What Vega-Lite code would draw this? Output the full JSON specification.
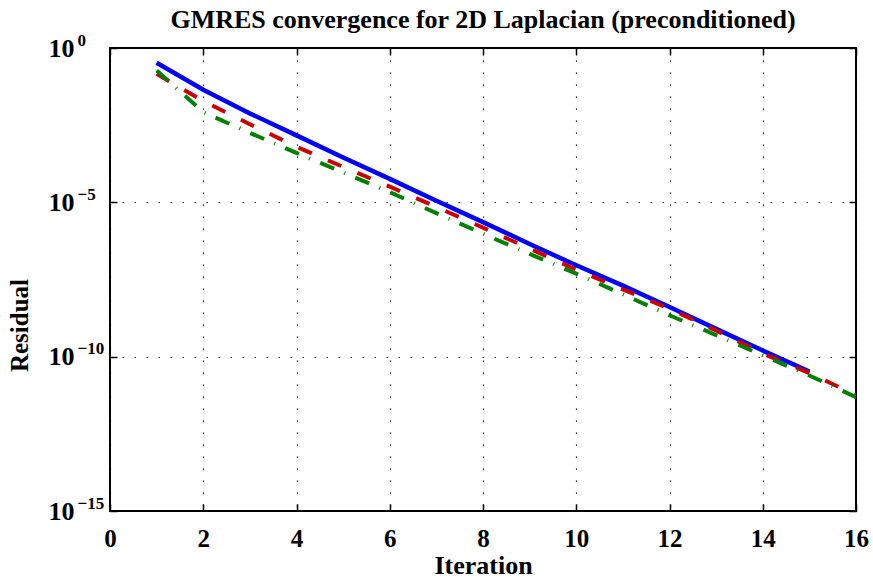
{
  "$schema": "https://vega.github.io/schema/vega-lite/v6.json",
  "width": 746,
  "height": 463,
  "autosize": {"type": "none"},
  "padding": {"left": 110, "top": 48, "right": 17, "bottom": 67},
  "background": "white",
  "title": {
    "text": "GMRES convergence for 2D Laplacian (preconditioned)",
    "font": "Liberation Serif",
    "fontSize": 26,
    "fontWeight": "bold",
    "color": "#000000",
    "anchor": "middle",
    "baseline": "alphabetic",
    "offset": 0,
    "dy": 23
  },
  "config": {
    "view": {"stroke": "#000000", "strokeWidth": 2},
    "axis": {
      "labelFont": "Liberation Serif",
      "titleFont": "Liberation Serif",
      "labelFontWeight": "bold",
      "titleFontWeight": "bold",
      "labelColor": "#000000",
      "titleColor": "#000000",
      "tickColor": "#000000",
      "domain": false,
      "labelOverlap": false,
      "labelBound": false,
      "labelFlush": false
    }
  },
  "data": {
    "values": [
      {"it": 1, "res": 0.331, "s": "P1"},
      {"it": 2, "res": 0.0447, "s": "P1"},
      {"it": 3, "res": 7.59e-3, "s": "P1"},
      {"it": 4, "res": 1.48e-3, "s": "P1"},
      {"it": 5, "res": 2.82e-4, "s": "P1"},
      {"it": 6, "res": 5.75e-5, "s": "P1"},
      {"it": 7, "res": 1.12e-5, "s": "P1"},
      {"it": 8, "res": 2.29e-6, "s": "P1"},
      {"it": 9, "res": 4.47e-7, "s": "P1"},
      {"it": 10, "res": 9.12e-8, "s": "P1"},
      {"it": 11, "res": 2.0e-8, "s": "P1"},
      {"it": 12, "res": 4.07e-9, "s": "P1"},
      {"it": 13, "res": 7.94e-10, "s": "P1"},
      {"it": 14, "res": 1.58e-10, "s": "P1"},
      {"it": 15, "res": 3.31e-11, "s": "P1"},
      {"it": 1, "res": 0.145, "s": "P2"},
      {"it": 2, "res": 0.0191, "s": "P2"},
      {"it": 3, "res": 3.39e-3, "s": "P2"},
      {"it": 4, "res": 6.31e-4, "s": "P2"},
      {"it": 5, "res": 1.41e-4, "s": "P2"},
      {"it": 6, "res": 3.24e-5, "s": "P2"},
      {"it": 7, "res": 7.08e-6, "s": "P2"},
      {"it": 8, "res": 1.51e-6, "s": "P2"},
      {"it": 9, "res": 3.16e-7, "s": "P2"},
      {"it": 10, "res": 6.61e-8, "s": "P2"},
      {"it": 11, "res": 1.51e-8, "s": "P2"},
      {"it": 12, "res": 3.55e-9, "s": "P2"},
      {"it": 13, "res": 7.08e-10, "s": "P2"},
      {"it": 14, "res": 1.26e-10, "s": "P2"},
      {"it": 15, "res": 2.95e-11, "s": "P2"},
      {"it": 16, "res": 5.62e-12, "s": "P2"},
      {"it": 1, "res": 0.186, "s": "P3"},
      {"it": 2, "res": 8.32e-3, "s": "P3"},
      {"it": 3, "res": 1.78e-3, "s": "P3"},
      {"it": 4, "res": 3.98e-4, "s": "P3"},
      {"it": 5, "res": 9.33e-5, "s": "P3"},
      {"it": 6, "res": 2.14e-5, "s": "P3"},
      {"it": 7, "res": 4.47e-6, "s": "P3"},
      {"it": 8, "res": 9.55e-7, "s": "P3"},
      {"it": 9, "res": 2.14e-7, "s": "P3"},
      {"it": 10, "res": 4.90e-8, "s": "P3"},
      {"it": 11, "res": 1.05e-8, "s": "P3"},
      {"it": 12, "res": 2.19e-9, "s": "P3"},
      {"it": 13, "res": 5.01e-10, "s": "P3"},
      {"it": 14, "res": 1.10e-10, "s": "P3"},
      {"it": 15, "res": 2.45e-11, "s": "P3"},
      {"it": 16, "res": 4.90e-12, "s": "P3"}
    ]
  },
  "layer": [
    {
      "transform": [{"filter": "datum.s == 'P1'"}],
      "mark": {"type": "line", "color": "#0000ff", "strokeWidth": 4.5, "clip": true},
      "encoding": {
        "x": {
          "field": "it", "type": "quantitative",
          "scale": {"domain": [0, 16], "nice": false, "zero": false},
          "axis": {
            "orient": "bottom",
            "values": [0, 2, 4, 6, 8, 10, 12, 14, 16],
            "format": "d",
            "labelFontSize": 25,
            "labelPadding": 22,
            "tickSize": -7,
            "tickWidth": 1.5,
            "grid": true,
            "gridColor": "#000000",
            "gridWidth": 1.2,
            "gridDash": [1.3, 10.7],
            "title": "Iteration",
            "titleFontSize": 26,
            "titleBaseline": "alphabetic",
            "titleY": 62,
            "titleX": 373
          }
        },
        "y": {
          "field": "res", "type": "quantitative",
          "scale": {"type": "log", "domain": [1e-15, 1], "nice": false},
          "axis": {
            "orient": "left",
            "values": [1, 1e-5, 1e-10, 1e-15],
            "labelExpr": "'10'",
            "labelAlign": "left",
            "labelBaseline": "middle",
            "labelFontSize": 26,
            "labelPadding": 69,
            "tickSize": -7,
            "tickWidth": 1.5,
            "grid": true,
            "gridColor": "#000000",
            "gridWidth": 1.2,
            "gridDash": [1.3, 10.7],
            "title": "Residual",
            "titleFontSize": 25,
            "titleBaseline": "alphabetic",
            "titleX": -83,
            "titleY": 277
          }
        }
      }
    },
    {
      "transform": [{"filter": "datum.s == 'P2'"}],
      "mark": {"type": "line", "color": "#cc0000", "strokeWidth": 4, "strokeDash": [14.5, 17.5], "clip": true},
      "encoding": {
        "x": {
          "field": "it", "type": "quantitative",
          "scale": {"domain": [0, 16], "nice": false, "zero": false},
          "axis": {
            "orient": "top",
            "values": [0, 2, 4, 6, 8, 10, 12, 14, 16],
            "labels": false,
            "tickSize": -7,
            "tickWidth": 1.5,
            "grid": false,
            "title": null
          }
        },
        "y": {
          "field": "res", "type": "quantitative",
          "scale": {"type": "log", "domain": [1e-15, 1], "nice": false},
          "axis": {
            "orient": "right",
            "values": [1, 1e-5, 1e-10, 1e-15],
            "labels": false,
            "tickSize": -7,
            "tickWidth": 1.5,
            "grid": false,
            "title": null
          }
        }
      }
    },
    {
      "transform": [{"filter": "datum.s == 'P3'"}],
      "mark": {"type": "line", "color": "#008000", "strokeWidth": 4, "strokeDash": [15, 11, 1, 11], "clip": true},
      "encoding": {
        "x": {
          "field": "it", "type": "quantitative",
          "scale": {"domain": [0, 16], "nice": false, "zero": false},
          "axis": null
        },
        "y": {
          "field": "res", "type": "quantitative",
          "scale": {"type": "log", "domain": [1e-15, 1], "nice": false},
          "axis": {
            "orient": "left",
            "values": [1, 1e-5, 1e-10, 1e-15],
            "labelExpr": "datum.value > 0.5 ? '0' : datum.value > 1e-6 ? '\u22125' : datum.value > 1e-11 ? '\u221210' : '\u221215'",
            "labelAlign": "left",
            "labelBaseline": "alphabetic",
            "labelFontSize": 17,
            "labelPadding": 33,
            "labelOffset": -3,
            "ticks": false,
            "grid": false,
            "title": null
          }
        }
      }
    }
  ],
  "resolve": {"axis": {"x": "independent", "y": "independent"}}
}
